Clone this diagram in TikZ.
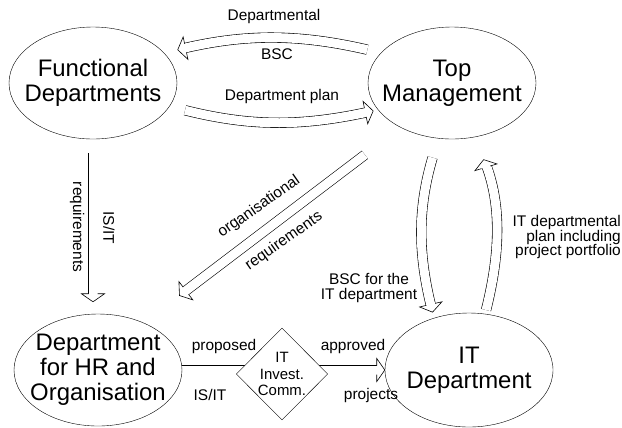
\documentclass[tikz,border=0pt]{standalone}
\usepackage{fontspec}
\setmainfont{Liberation Sans}
\usetikzlibrary{shapes.geometric,decorations.markings,backgrounds}

\tikzset{
  dept/.style={ellipse, draw, fill=white, minimum width=168bp, minimum height=112bp,
    inner sep=-20bp, align=center, font=\fontsize{24}{25}\selectfont},
  committee/.style={diamond, draw, fill=white, minimum width=91bp, minimum height=92bp,
    inner sep=0pt, align=center, font=\fontsize{15}{16.5}\selectfont},
  lbl/.style={inner sep=0pt, align=center, font=\fontsize{15.5}{15}\selectfont},
  shaft/.style={draw=white, line width=9bp, preaction={draw=black, line width=10.2bp}},
  flow/.style 2 args={shaft, shorten <=#1, shorten >=#2+7bp,
    postaction={decorate, decoration={markings, mark=at position -#2-0.01bp with {
      \draw[draw=black, line width=0.6bp, fill=white, shorten <=0pt, shorten >=0pt]
        (-8bp,4.5bp) -- (-8bp,11.5bp) -- (0,0) -- (-8bp,-11.5bp) -- (-8bp,-4.5bp);}}}}
}

\begin{document}
\begin{tikzpicture}[x=1bp, y=1bp]
  \useasboundingbox (0,0) rectangle (622,-427);

  \node[dept] (fd) at (93,-83) {Functional\\Departments};
  \node[dept] (tm) at (452,-83) {Top\\Management};
  \node[dept] (hr) at (98,-370) {Department\\for HR and\\Organisation};
  \node[dept, minimum height=114bp] (itd) at (469,-370) {IT\\Department};
  \node[committee] (inv) at (282,-374) {IT\\Invest.\\Comm.};

  \begin{scope}[on background layer]
    \draw[flow={14bp}{14bp}] (tm.157) to[bend right=13] (fd.23);
    \draw[flow={16bp}{5bp}] (fd.-17) to[bend right=13] (tm.200);
    \draw[flow={14bp}{12bp}] (fd.south) -- (fd.south |- hr.north);
    \draw[flow={45bp}{45bp}] (tm.221) -- (hr.46);
    \draw[flow={20bp}{6bp}] (tm.256) to[bend right=15] (itd.124);
    \draw[flow={4bp}{24bp}] (itd.74) to[bend right=17] (tm.-66);
    \draw[shaft, shorten >=-11bp] (hr.east) -- (hr.east -| inv.west);
    \draw[flow={-11bp}{0bp}] (inv.east |- itd.west) -- (itd.west);
  \end{scope}

  \node[lbl] (bscTop) at (274,-17) {Departmental};
  \node[lbl] (bscBot) at (277,-54) {BSC};
  \node[lbl] (planLbl) at (282,-97) {Department plan};
  \node[lbl, rotate=-90] (isitLbl) at (109,-228) {IS/IT};
  \node[lbl, rotate=-90] (reqLbl) at (77,-227) {requirements};
  \node[lbl, rotate=35] (orgLbl) at (259,-207) {organisational};
  \node[lbl, rotate=35] (orgReqLbl) at (284,-241) {requirements};
  \node[lbl] (itBscLbl) at (369,-288) {BSC for the\\IT department};
  \node[lbl, anchor=east, align=right] (itPlanLbl) at (621,-237)
    {IT departmental\\plan including\\project portfolio};
  \node[lbl] (propLbl) at (224,-346) {proposed};
  \node[lbl] (propIsLbl) at (210,-395) {IS/IT};
  \node[lbl] (apprLbl) at (353,-346) {approved};
  \node[lbl] (apprProjLbl) at (371,-395) {projects};
\end{tikzpicture}
\end{document}
